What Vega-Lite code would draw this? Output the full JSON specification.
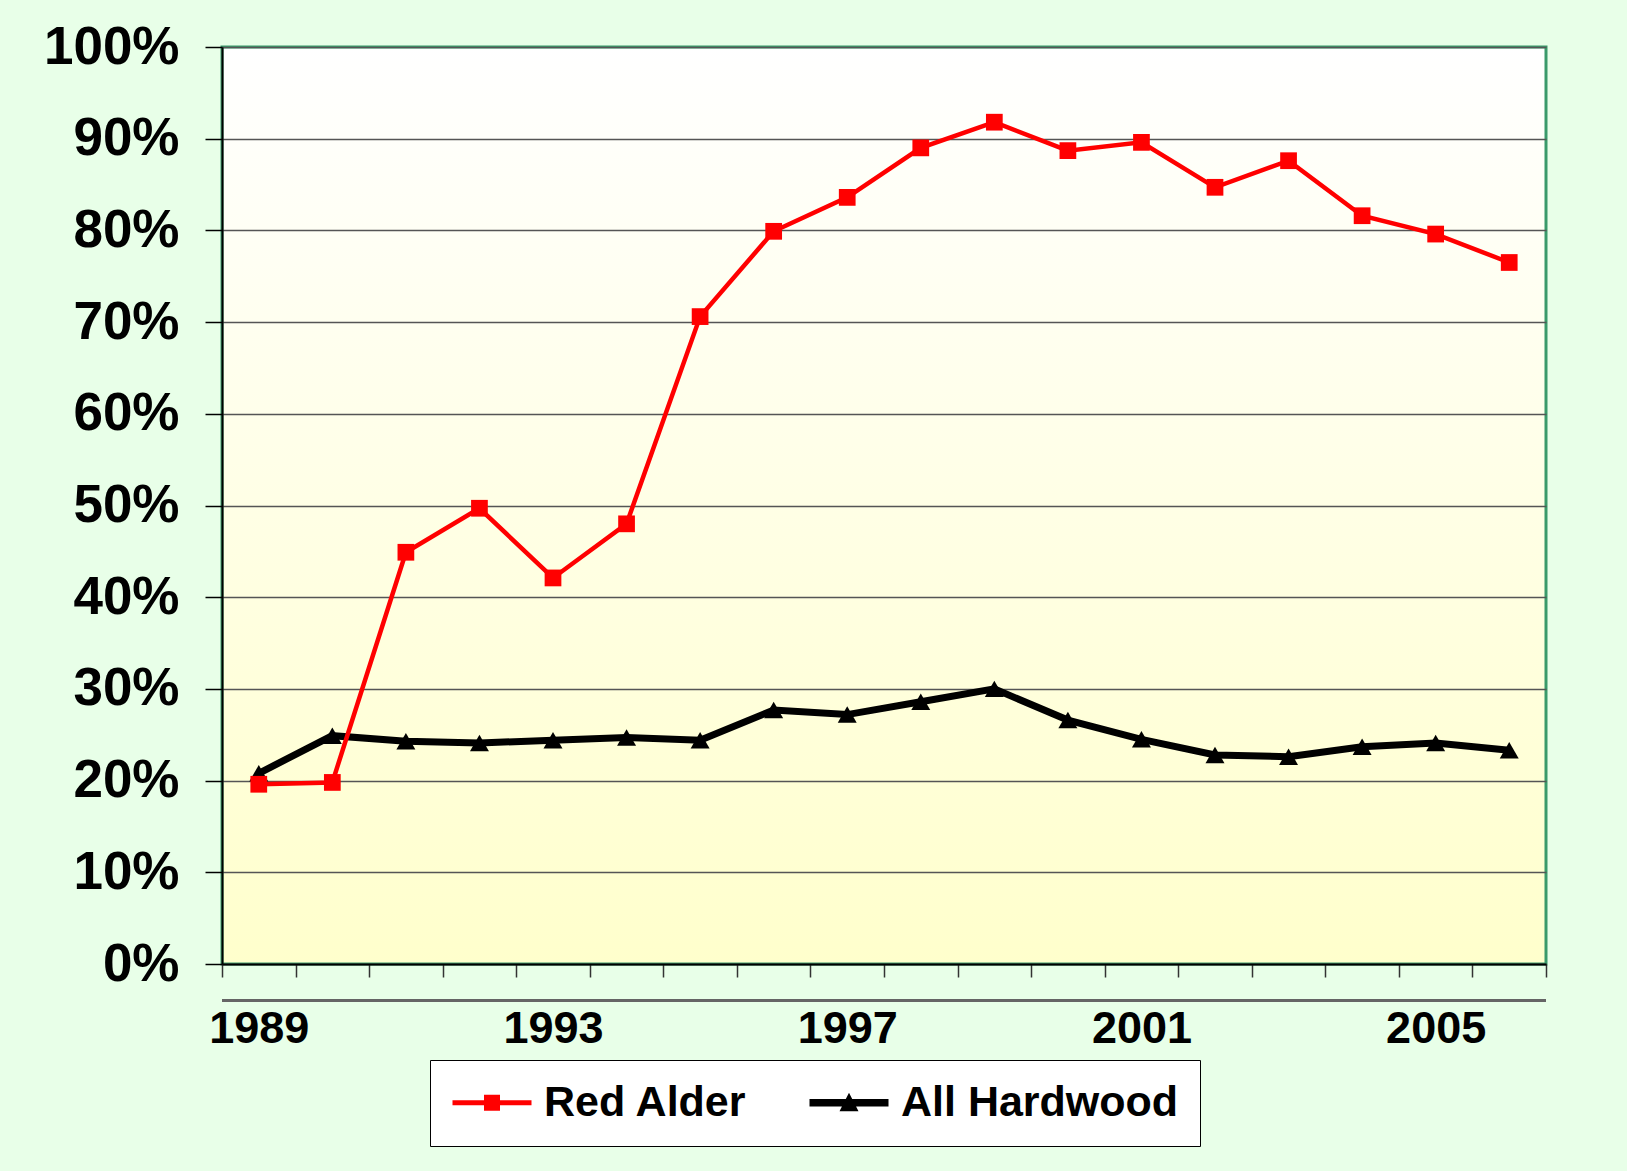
{
  "$schema": "https://vega.github.io/schema/vega-lite/v6.json",
  "width": 1324,
  "height": 917,
  "autosize": {"type": "none"},
  "padding": {"left": 222, "top": 47, "right": 81, "bottom": 207},
  "background": "#E8FFE8",
  "config": {
    "font": "Liberation Sans",
    "view": {
      "stroke": "#3A9A6A",
      "strokeWidth": 3,
      "fill": {"gradient": "linear", "x1": 0, "y1": 0, "x2": 0, "y2": 1, "stops": [{"offset": 0, "color": "#FFFFFF"}, {"offset": 1, "color": "#FFFFCC"}]}
    }
  },
  "data": {
    "values": [
      {"year": 1989, "series": "Red Alder", "value": 0.196},
      {"year": 1990, "series": "Red Alder", "value": 0.198},
      {"year": 1991, "series": "Red Alder", "value": 0.449},
      {"year": 1992, "series": "Red Alder", "value": 0.497},
      {"year": 1993, "series": "Red Alder", "value": 0.421},
      {"year": 1994, "series": "Red Alder", "value": 0.480},
      {"year": 1995, "series": "Red Alder", "value": 0.706},
      {"year": 1996, "series": "Red Alder", "value": 0.799},
      {"year": 1997, "series": "Red Alder", "value": 0.836},
      {"year": 1998, "series": "Red Alder", "value": 0.890},
      {"year": 1999, "series": "Red Alder", "value": 0.918},
      {"year": 2000, "series": "Red Alder", "value": 0.887},
      {"year": 2001, "series": "Red Alder", "value": 0.896},
      {"year": 2002, "series": "Red Alder", "value": 0.847},
      {"year": 2003, "series": "Red Alder", "value": 0.876},
      {"year": 2004, "series": "Red Alder", "value": 0.816},
      {"year": 2005, "series": "Red Alder", "value": 0.796},
      {"year": 2006, "series": "Red Alder", "value": 0.765},
      {"year": 1989, "series": "All Hardwood", "value": 0.208},
      {"year": 1990, "series": "All Hardwood", "value": 0.249},
      {"year": 1991, "series": "All Hardwood", "value": 0.243},
      {"year": 1992, "series": "All Hardwood", "value": 0.241},
      {"year": 1993, "series": "All Hardwood", "value": 0.244},
      {"year": 1994, "series": "All Hardwood", "value": 0.247},
      {"year": 1995, "series": "All Hardwood", "value": 0.244},
      {"year": 1996, "series": "All Hardwood", "value": 0.277},
      {"year": 1997, "series": "All Hardwood", "value": 0.272},
      {"year": 1998, "series": "All Hardwood", "value": 0.286},
      {"year": 1999, "series": "All Hardwood", "value": 0.300},
      {"year": 2000, "series": "All Hardwood", "value": 0.266},
      {"year": 2001, "series": "All Hardwood", "value": 0.245},
      {"year": 2002, "series": "All Hardwood", "value": 0.228},
      {"year": 2003, "series": "All Hardwood", "value": 0.226},
      {"year": 2004, "series": "All Hardwood", "value": 0.237},
      {"year": 2005, "series": "All Hardwood", "value": 0.241},
      {"year": 2006, "series": "All Hardwood", "value": 0.233}
    ]
  },
  "encoding": {
    "x": {
      "field": "year",
      "type": "ordinal",
      "scale": {"type": "band", "paddingInner": 0, "paddingOuter": 0},
      "axis": {
        "title": null,
        "tickBand": "extent",
        "tickSize": 13,
        "tickColor": "#333333",
        "tickWidth": 1.5,
        "domainColor": "#000000",
        "domainWidth": 2,
        "grid": false,
        "labelAngle": 0,
        "labelFont": "Liberation Sans",
        "labelFontSize": 45,
        "labelFontWeight": "bold",
        "labelColor": "#000000",
        "labelPadding": 29,
        "labelOverlap": false,
        "labelExpr": "(datum.value - 1989) % 4 == 0 ? datum.label : ''"
      }
    },
    "y": {
      "field": "value",
      "type": "quantitative",
      "scale": {"domain": [0, 1], "nice": false},
      "axis": {
        "title": null,
        "values": [0, 0.1, 0.2, 0.3, 0.4, 0.5, 0.6, 0.7, 0.8, 0.9, 1],
        "format": ".0%",
        "grid": true,
        "gridColor": "#555555",
        "gridWidth": 1.5,
        "tickSize": 17,
        "tickColor": "#000000",
        "tickWidth": 1.5,
        "domainColor": "#000000",
        "domainWidth": 2,
        "labelFont": "Liberation Sans",
        "labelFontSize": 53,
        "labelFontWeight": "bold",
        "labelColor": "#000000",
        "labelPadding": 26,
        "labelOverlap": false,
        "labelFlush": false
      }
    }
  },
  "layer": [
    {
      "mark": {"type": "rule", "color": "#666666", "strokeWidth": 2, "clip": false},
      "encoding": {"y": {"datum": -0.04}, "x": null}
    },
    {
      "transform": [{"filter": "datum.series === 'All Hardwood'"}],
      "mark": {"type": "line", "color": "#000000", "strokeWidth": 7, "strokeJoin": "miter"}
    },
    {
      "transform": [{"filter": "datum.series === 'All Hardwood'"}],
      "mark": {"type": "point", "shape": "triangle-up", "filled": true, "size": 360, "opacity": 1, "strokeWidth": 0},
      "encoding": {
        "color": {
          "field": "series",
          "type": "nominal",
          "scale": {"domain": ["Red Alder", "All Hardwood"], "range": ["#FF0000", "#000000"]},
          "legend": {
            "title": null,
            "orient": "none",
            "legendX": 208,
            "legendY": 1013,
            "direction": "horizontal",
            "columns": 2,
            "columnPadding": 60,
            "padding": 21,
            "symbolSize": 1600,
            "symbolStrokeWidth": 0,
            "symbolOpacity": 1,
            "labelOffset": 50,
            "labelLimit": 500,
            "labelFont": "Liberation Sans",
            "labelFontSize": 43,
            "labelFontWeight": "bold",
            "labelColor": "#000000",
            "fillColor": "#FFFFFF",
            "strokeColor": "#000000",
            "encode": {
              "symbols": {
                "update": {
                  "shape": {"signal": "datum.value === 'Red Alder' ? 'M-1,-0.125H2.95V0.125H-1Z M0.575,-0.4H1.375V0.4H0.575Z' : 'M-1,-0.19H2.95V0.19H-1Z M0.975,-0.5L1.45,0.42H0.5Z'"}
                }
              }
            }
          }
        }
      }
    },
    {
      "transform": [{"filter": "datum.series === 'Red Alder'"}],
      "mark": {"type": "line", "color": "#FF0000", "strokeWidth": 4.5, "strokeJoin": "miter"}
    },
    {
      "transform": [{"filter": "datum.series === 'Red Alder'"}],
      "mark": {"type": "point", "shape": "square", "filled": true, "size": 280, "opacity": 1, "strokeWidth": 0},
      "encoding": {
        "color": {
          "field": "series",
          "type": "nominal",
          "scale": {"domain": ["Red Alder", "All Hardwood"], "range": ["#FF0000", "#000000"]},
          "legend": {
            "title": null,
            "orient": "none",
            "legendX": 208,
            "legendY": 1013,
            "direction": "horizontal",
            "columns": 2,
            "columnPadding": 60,
            "padding": 21,
            "symbolSize": 1600,
            "symbolStrokeWidth": 0,
            "symbolOpacity": 1,
            "labelOffset": 50,
            "labelLimit": 500,
            "labelFont": "Liberation Sans",
            "labelFontSize": 43,
            "labelFontWeight": "bold",
            "labelColor": "#000000",
            "fillColor": "#FFFFFF",
            "strokeColor": "#000000",
            "encode": {
              "symbols": {
                "update": {
                  "shape": {"signal": "datum.value === 'Red Alder' ? 'M-1,-0.125H2.95V0.125H-1Z M0.575,-0.4H1.375V0.4H0.575Z' : 'M-1,-0.19H2.95V0.19H-1Z M0.975,-0.5L1.45,0.42H0.5Z'"}
                }
              }
            }
          }
        }
      }
    }
  ]
}
